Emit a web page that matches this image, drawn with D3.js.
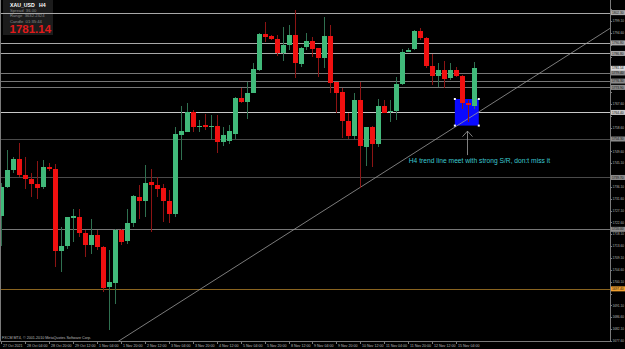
<!DOCTYPE html>
<html>
<head>
<meta charset="utf-8">
<script src="https://cdn.jsdelivr.net/npm/d3@7"></script>
<style>
  html, body { margin: 0; padding: 0; background: #000; }
  svg { display: block; font-family: "Liberation Sans", Arial, sans-serif; }
</style>
</head>
<body>
<svg id="chart" width="625" height="349"></svg>
<script>
// XAU_USD H4, 27 Oct 12:00 .. 15 Nov 16:00
const opens = [1725.0,1735.9,1742.5,1746.6,1740.6,1739.0,1737.2,1735.9,1743.5,1742.9,
  1711.8,1713.6,1724.4,1724.7,1718.7,1714.0,1717.8,1713.3,1698.2,1699.7,
  1719.7,1715.5,1722.4,1732.4,1730.8,1737.8,1736.8,1735.6,1730.7,1725.7,
  1755.9,1757.1,1764.4,1759.0,1759.6,1759.0,1759.2,1753.3,1753.6,1756.2,
  1769.8,1768.5,1771.9,1780.5,1794.1,1793.4,1792.3,1786.9,1790.0,1793.8,
  1782.8,1789.4,1791.6,1788.8,1785.0,1793.4,1775.9,1772.3,1761.2,1755.4,
  1769.1,1751.4,1758.7,1752.4,1766.8,1764.5,1765.0,1775.2,1787.5,1788.4,
  1795.4,1792.6,1782.0,1778.2,1780.5,1777.4,1780.5,1778.2,1768.1,1766.8];
const highs = [1737.6,1750.1,1747.6,1752.7,1747.6,1741.3,1746.0,1746.3,1745.3,1744.8,
  1721.0,1724.7,1727.9,1727.9,1719.7,1724.1,1719.7,1713.5,1712.1,1720.0,
  1720.3,1727.9,1733.0,1736.8,1744.4,1742.8,1740.0,1737.4,1734.9,1758.7,
  1766.8,1768.1,1765.3,1761.5,1763.8,1763.4,1763.4,1758.7,1759.6,1770.1,
  1773.5,1776.1,1783.3,1794.4,1798.9,1793.8,1793.8,1796.7,1797.6,1803.3,
  1789.4,1794.7,1793.2,1789.0,1800.5,1797.6,1776.1,1773.6,1764.1,1771.9,
  1776.1,1759.0,1759.2,1769.4,1769.1,1769.1,1777.7,1788.4,1788.9,1795.7,
  1796.4,1793.2,1786.6,1783.3,1784.1,1783.3,1781.5,1778.6,1769.1,1783.7];
const lows = [1713.6,1735.7,1741.3,1740.0,1735.2,1732.3,1731.7,1735.3,1742.2,1705.8,
  1703.9,1712.4,1715.3,1717.2,1709.6,1710.8,1712.1,1696.3,1681.7,1691.8,
  1714.0,1714.6,1721.0,1724.1,1724.7,1719.1,1732.3,1722.9,1722.5,1724.8,
  1746.3,1757.0,1757.0,1757.0,1757.7,1754.3,1748.9,1751.6,1752.4,1754.2,
  1767.9,1761.9,1771.7,1780.2,1791.3,1791.9,1785.8,1784.0,1788.1,1777.4,
  1781.8,1788.1,1785.6,1778.0,1781.1,1771.7,1764.1,1754.6,1754.2,1753.9,
  1735.6,1744.0,1743.8,1751.4,1764.1,1760.9,1761.5,1774.8,1787.3,1788.1,
  1791.9,1781.1,1774.8,1774.2,1773.6,1776.7,1778.0,1765.6,1760.9,1765.6];
const closes = [1736.0,1742.5,1746.6,1740.6,1739.0,1737.2,1735.8,1743.8,1742.8,1711.7,
  1713.6,1724.5,1725.0,1718.7,1714.0,1717.8,1713.3,1697.9,1699.9,1719.7,
  1715.1,1722.4,1732.6,1730.8,1737.7,1736.8,1735.3,1730.8,1725.7,1756.1,
  1757.3,1764.7,1758.7,1759.2,1759.0,1759.2,1753.3,1755.8,1757.3,1769.8,
  1768.5,1771.8,1780.8,1794.1,1793.2,1792.3,1786.9,1790.0,1793.8,1783.1,
  1788.8,1791.6,1788.4,1785.0,1793.4,1775.7,1771.9,1761.2,1755.4,1769.1,
  1751.6,1758.7,1752.4,1766.8,1764.3,1765.0,1775.2,1787.5,1788.1,1795.4,
  1792.6,1782.0,1778.2,1780.5,1777.0,1780.5,1778.2,1768.1,1767.2,1781.14];

const timeTickBars = [0,4,8,12,16,20,24,28,32,36,40,44,48,52,56,60,64,68,72,76];
const timeTickLabels = ['27 Oct 2021','28 Oct 04:00','28 Oct 20:00','29 Oct 12:00','1 Nov 04:00',
  '1 Nov 20:00','2 Nov 12:00','3 Nov 04:00','3 Nov 20:00','4 Nov 12:00','5 Nov 04:00',
  '5 Nov 20:00','8 Nov 12:00','9 Nov 04:00','9 Nov 20:00','10 Nov 12:00','11 Nov 04:00',
  '11 Nov 20:00','12 Nov 12:00','15 Nov 04:00'];

const priceTicks = [1677.60,1682.10,1686.60,1691.10,1695.60,1700.10,1704.60,1709.10,1713.60,
  1718.10,1722.60,1727.10,1731.60,1736.10,1740.60,1745.10,1749.60,1754.10,1758.60,1763.10,
  1767.60,1772.10,1776.60,1781.10,1785.60,1790.10,1794.60,1799.10,1803.60];

// horizontal S/R levels
const levelPrices = [1802.3,1790.8,1786.8,1779.4,1776.3,1773.9,1764.4,1754.3,1739.7,1720.0,1697.4];
const levelKinds = ['major','major','major','minor','minor','minor','key','weak','weak','minor','daily'];

const lastPrice = 1781.14;
const info = ['Spread  36.00', 'Range  3632.2324', 'Candle  01:35:44'];

// trend line anchors [bar, price] and marked zone
const trendAnchors = [[30, 1692.6], [78, 1762.0]];
const zoneBars = [75.8, 79.8];
const zonePrices = [1769.5, 1759.4];
const arrowBar = 77.9;
const arrowPrices = [1748.2, 1757.3];
const note = 'H4 trend line meet with strong S/R, don:t miss it';
const noteAt = [68.1, 1745.2];

const kindColor = { major: '#a8a8a8', minor: '#777', key: '#c8c8c8', weak: '#4a4a4a', daily: '#8a6420' };
const kindLabel = { major: '#a8a8a8', minor: '#8a8a8a', key: '#c8c8c8', weak: '#8a8a8a', daily: '#f0a030' };

const svg = d3.select('#chart');
const plotRight = 610;
const plotBottom = 341;
const axisFont = 3.2;

const x = d3.scaleLinear().domain([0, 79]).range([1.4, 474]);
const y = d3.scaleLinear().domain([1677.6, 1803.6]).range([plotBottom, 9.2]);
const py = p => Math.round(y(p)) + 0.5;

svg.append('rect').attr('width', 625).attr('height', 349).attr('fill', '#000');

svg.append('clipPath').attr('id', 'plot')
  .append('rect').attr('width', plotRight).attr('height', plotBottom);

// info panel
svg.append('rect').attr('x', 3).attr('y', 0).attr('width', 50).attr('height', 35).attr('fill', '#1c1c1c');

const plot = svg.append('g').attr('clip-path', 'url(#plot)');

plot.append('g').selectAll('line')
  .data(levelPrices)
  .join('line')
  .attr('x1', 0)
  .attr('x2', plotRight)
  .attr('y1', py)
  .attr('y2', py)
  .attr('stroke', (d, i) => kindColor[levelKinds[i]])
  .attr('stroke-width', 1);

// zone box
const zx0 = x(zoneBars[0]), zx1 = x(zoneBars[1]);
const zy0 = y(zonePrices[0]), zy1 = y(zonePrices[1]);
plot.append('rect')
  .attr('x', zx0).attr('y', zy0)
  .attr('width', zx1 - zx0).attr('height', zy1 - zy0)
  .attr('fill', '#0a0aff');

// trend line, extended across the plot
const [a, b] = trendAnchors.map(([bar, p]) => [x(bar), y(p)]);
const slope = (b[1] - a[1]) / (b[0] - a[0]);
plot.append('line')
  .attr('x1', 0).attr('y1', a[1] - slope * a[0])
  .attr('x2', plotRight).attr('y2', a[1] + slope * (plotRight - a[0]))
  .attr('stroke', '#9a9a9a')
  .attr('stroke-width', 0.8);

// candles
const bars = d3.range(opens.length).map(i => ({
  i, o: opens[i], h: highs[i], l: lows[i], c: closes[i], up: closes[i] >= opens[i],
}));
const candle = plot.append('g').selectAll('g')
  .data(bars)
  .join('g')
  .attr('transform', d => `translate(${Math.round(x(d.i))},0)`);
candle.append('line')
  .attr('x1', 0.5).attr('x2', 0.5)
  .attr('y1', d => Math.round(y(d.h)))
  .attr('y2', d => Math.round(y(d.l)))
  .attr('stroke', d => (d.up ? '#2f7050' : '#8c1414'));
candle.append('rect')
  .attr('x', -2)
  .attr('width', 5)
  .attr('y', d => Math.round(y(Math.max(d.o, d.c))))
  .attr('height', d => Math.max(1, Math.round(y(Math.min(d.o, d.c))) - Math.round(y(Math.max(d.o, d.c)))))
  .attr('fill', d => (d.up ? '#41b97a' : '#f01010'));

// zone handles
plot.append('g').selectAll('rect')
  .data([[zx0, zy0], [zx1, zy0], [zx0, zy1], [zx1, zy1]])
  .join('rect')
  .attr('x', d => d[0] - 1).attr('y', d => d[1] - 1)
  .attr('width', 2).attr('height', 2)
  .attr('fill', '#fff');

// arrow + note
const ax = Math.round(x(arrowBar)) + 0.5;
const tipY = y(arrowPrices[1]);
plot.append('path')
  .attr('d', `M${ax},${y(arrowPrices[0])}V${tipY}M${ax - 5},${tipY + 5.5}L${ax},${tipY}L${ax + 5},${tipY + 5.5}`)
  .attr('fill', 'none')
  .attr('stroke', '#a0a0a0')
  .attr('stroke-width', 0.8);
plot.append('text')
  .attr('x', x(noteAt[0]))
  .attr('y', y(noteAt[1]))
  .attr('fill', '#3cc8d0')
  .attr('font-size', 6.7)
  .text(note);

// frame
svg.append('path')
  .attr('d', `M0.5,0V${plotBottom + 0.5}H${plotRight + 0.5}V0`)
  .attr('fill', 'none')
  .attr('stroke', '#7a7a7a');

// price axis; labels under a level marker are hidden like MT4 does
const marks = levelPrices.map((p, i) => ({ p, fill: kindLabel[levelKinds[i]] }))
  .concat([{ p: lastPrice, fill: '#d8d8d8' }]);
const freeTicks = priceTicks.filter(t => marks.every(m => Math.abs(y(t) - y(m.p)) > 5));

const pAxis = svg.append('g');
pAxis.selectAll('line')
  .data(priceTicks)
  .join('line')
  .attr('x1', plotRight).attr('x2', plotRight + 2)
  .attr('y1', py).attr('y2', py)
  .attr('stroke', '#7a7a7a');
pAxis.selectAll('text')
  .data(freeTicks)
  .join('text')
  .attr('x', plotRight + 2.5)
  .attr('y', d => y(d) + 1.1)
  .attr('fill', '#bbb')
  .attr('font-size', axisFont)
  .text(d => d.toFixed(2));

const mark = svg.append('g').selectAll('g')
  .data(marks)
  .join('g')
  .attr('transform', d => `translate(${plotRight + 1},${y(d.p)})`);
mark.append('rect')
  .attr('y', -2.5).attr('width', 14).attr('height', 5)
  .attr('fill', d => d.fill);
mark.append('text')
  .attr('x', 1).attr('y', 1.1)
  .attr('fill', '#111')
  .attr('font-size', axisFont)
  .text(d => d.p.toFixed(2));

// time axis
const tAxis = svg.append('g').selectAll('g')
  .data(timeTickBars)
  .join('g')
  .attr('transform', d => `translate(${Math.round(x(d)) + 0.5},${plotBottom})`);
tAxis.append('line').attr('y1', 0).attr('y2', 3).attr('stroke', '#7a7a7a');
tAxis.append('text')
  .attr('x', 1.5).attr('y', 5.5)
  .attr('fill', '#bbb')
  .attr('font-size', 3.6)
  .text((d, i) => timeTickLabels[i]);

svg.append('text')
  .attr('x', 2).attr('y', 339)
  .attr('fill', '#bbb')
  .attr('font-size', 3.7)
  .text('FXCM MT4, \u00a9 2001-2010 MetaQuotes Software Corp.');

// info panel text
svg.append('text')
  .attr('x', 10).attr('y', 6.8)
  .attr('fill', '#fff')
  .attr('font-size', 5.2)
  .attr('font-weight', 'bold')
  .attr('xml:space', 'preserve')
  .text('XAU_USD   H4');
svg.append('g').selectAll('text')
  .data(info)
  .join('text')
  .attr('x', 10)
  .attr('y', (d, i) => 11.6 + i * 5.6)
  .attr('fill', '#8c8c8c')
  .attr('font-size', 4.2)
  .attr('xml:space', 'preserve')
  .text(d => d);
svg.append('text')
  .attr('x', 9.5).attr('y', 33.3)
  .attr('fill', '#e01a1a')
  .attr('font-size', 11.5)
  .attr('font-weight', 'bold')
  .text(lastPrice.toFixed(2));
</script>
</body>
</html>
